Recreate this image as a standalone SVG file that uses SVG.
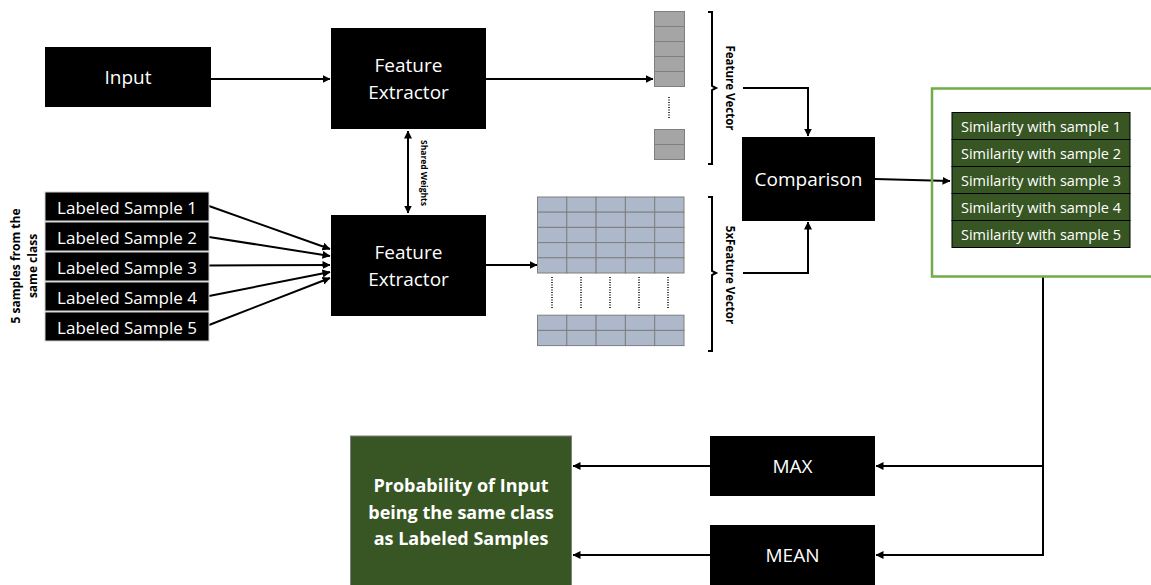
<svg xmlns="http://www.w3.org/2000/svg" width="1151" height="585" viewBox="0 0 1151 585">
  <style>
    .blk { fill: #000000; }
    .lbl { font-family: "Open Sans", "Liberation Sans", sans-serif; fill: #ffffff; text-anchor: middle; dominant-baseline: central; }
    .big { font-size: 19px; }
    .sm { font-size: 17px; }
    .sim { font-size: 14.5px; }
    .side { font-family: "Open Sans", "Liberation Sans", sans-serif; font-weight: bold; fill: #000000; text-anchor: middle; dominant-baseline: central; }
    .wire { fill: none; stroke: #000000; stroke-width: 2; }
    .cellA { fill: #a5a5a5; stroke: #7f7f7f; stroke-width: 1; }
    .cellB { fill: #adb9ca; stroke: #7f7f7f; stroke-width: 1; }
    .dots { stroke: #000000; stroke-width: 1.5; stroke-dasharray: 1 1.5; fill: none; }
    .brace { fill: none; stroke: #000000; stroke-width: 2; }
    .simbox { fill: #375623; stroke: #000000; stroke-width: 1; }
  </style>
  <defs>
    <marker id="arr" viewBox="0 0 8 8" refX="7.5" refY="4" markerWidth="4" markerHeight="4" orient="auto-start-reverse" markerUnits="strokeWidth">
      <path d="M0,0 L8,4 L0,8 Z" fill="#000000"/>
    </marker>
  </defs>

  <rect width="1151" height="585" fill="#ffffff"/>

  <!-- connectors -->
  <g id="connectors">
    <line class="wire" x1="211" y1="79" x2="330" y2="79" marker-end="url(#arr)"/>
    <line class="wire" x1="486" y1="79" x2="653" y2="79" marker-end="url(#arr)"/>
    <line class="wire" x1="408" y1="131" x2="408" y2="213" marker-start="url(#arr)" marker-end="url(#arr)"/>
    <line class="wire" x1="486" y1="265" x2="537" y2="265" marker-end="url(#arr)"/>
    <line class="wire" x1="209" y1="206" x2="330" y2="249" marker-end="url(#arr)"/>
    <line class="wire" x1="209" y1="237" x2="330" y2="256" marker-end="url(#arr)"/>
    <line class="wire" x1="209" y1="265.5" x2="330" y2="265" marker-end="url(#arr)"/>
    <line class="wire" x1="209" y1="296" x2="330" y2="272" marker-end="url(#arr)"/>
    <line class="wire" x1="209" y1="325" x2="330" y2="278" marker-end="url(#arr)"/>
    <polyline class="wire" points="743,88 808,88 808,136" marker-end="url(#arr)"/>
    <polyline class="wire" points="743,273 808,273 808,222" marker-end="url(#arr)"/>
    <line class="wire" x1="875" y1="179" x2="950" y2="181" marker-end="url(#arr)"/>
    <polyline class="wire" points="1043,277 1043,555 876,555" marker-end="url(#arr)"/>
    <line class="wire" x1="1043" y1="466" x2="876" y2="466" marker-end="url(#arr)"/>
    <line class="wire" x1="710" y1="466" x2="573" y2="466" marker-end="url(#arr)"/>
    <line class="wire" x1="710" y1="555" x2="573" y2="555" marker-end="url(#arr)"/>
  </g>

  <!-- input -->
  <g id="input">
    <rect class="blk" x="45" y="47" width="166" height="60"/>
    <text class="lbl big" x="128" y="77">Input</text>
  </g>

  <!-- upper feature extractor -->
  <g id="feature-extractor-top">
    <rect class="blk" x="331" y="28" width="155" height="101"/>
    <text class="lbl big" x="408.5" y="65">Feature</text>
    <text class="lbl big" x="408.5" y="92">Extractor</text>
  </g>

  <g id="shared-weights">
    <text class="side" font-size="8.5" transform="translate(424,173) rotate(90)">Shared Weights</text>
  </g>

  <!-- lower feature extractor -->
  <g id="feature-extractor-bottom">
    <rect class="blk" x="331" y="215" width="155" height="101"/>
    <text class="lbl big" x="408.5" y="252">Feature</text>
    <text class="lbl big" x="408.5" y="279">Extractor</text>
  </g>

  <!-- labeled samples -->
  <g id="samples">
    <rect class="blk" x="45" y="192" width="164" height="29" stroke="#d0d0d0" stroke-width="1"/>
    <text class="lbl sm" x="127" y="207">Labeled Sample 1</text>
    <rect class="blk" x="45" y="222" width="164" height="29" stroke="#d0d0d0" stroke-width="1"/>
    <text class="lbl sm" x="127" y="237">Labeled Sample 2</text>
    <rect class="blk" x="45" y="252" width="164" height="29" stroke="#d0d0d0" stroke-width="1"/>
    <text class="lbl sm" x="127" y="267">Labeled Sample 3</text>
    <rect class="blk" x="45" y="282" width="164" height="29" stroke="#d0d0d0" stroke-width="1"/>
    <text class="lbl sm" x="127" y="297">Labeled Sample 4</text>
    <rect class="blk" x="45" y="312" width="164" height="29" stroke="#d0d0d0" stroke-width="1"/>
    <text class="lbl sm" x="127" y="327">Labeled Sample 5</text>
  </g>

  <g id="samples-caption">
    <text class="side" font-size="12" transform="translate(15,266) rotate(-90)">5 samples from the</text>
    <text class="side" font-size="12" transform="translate(32,266) rotate(-90)">same class</text>
  </g>

  <!-- single feature vector -->
  <g id="feature-vector">
    <rect class="cellA" x="654.5" y="11.5" width="30" height="15"/>
    <rect class="cellA" x="654.5" y="26.5" width="30" height="15"/>
    <rect class="cellA" x="654.5" y="41.5" width="30" height="15"/>
    <rect class="cellA" x="654.5" y="56.5" width="30" height="15"/>
    <rect class="cellA" x="654.5" y="71.5" width="30" height="15"/>
    <line class="dots" x1="669" y1="97" x2="669" y2="118"/>
    <rect class="cellA" x="654.5" y="129.5" width="30" height="15"/>
    <rect class="cellA" x="654.5" y="144.5" width="30" height="15"/>
    <path class="brace" d="M708,12 H712 V86 L716,88 L712,90 V164 H708"/>
    <text class="side" font-size="11.5" transform="translate(730,88) rotate(90)">Feature Vector</text>
  </g>

  <!-- five feature vectors -->
  <g id="feature-vectors-5x">
    <g class="cellB">
      <rect x="537.5" y="197" width="29.3" height="15.2"/><rect x="566.8" y="197" width="29.3" height="15.2"/><rect x="596.1" y="197" width="29.3" height="15.2"/><rect x="625.4" y="197" width="29.3" height="15.2"/><rect x="654.7" y="197" width="29.3" height="15.2"/>
      <rect x="537.5" y="212.2" width="29.3" height="15.2"/><rect x="566.8" y="212.2" width="29.3" height="15.2"/><rect x="596.1" y="212.2" width="29.3" height="15.2"/><rect x="625.4" y="212.2" width="29.3" height="15.2"/><rect x="654.7" y="212.2" width="29.3" height="15.2"/>
      <rect x="537.5" y="227.4" width="29.3" height="15.2"/><rect x="566.8" y="227.4" width="29.3" height="15.2"/><rect x="596.1" y="227.4" width="29.3" height="15.2"/><rect x="625.4" y="227.4" width="29.3" height="15.2"/><rect x="654.7" y="227.4" width="29.3" height="15.2"/>
      <rect x="537.5" y="242.6" width="29.3" height="15.2"/><rect x="566.8" y="242.6" width="29.3" height="15.2"/><rect x="596.1" y="242.6" width="29.3" height="15.2"/><rect x="625.4" y="242.6" width="29.3" height="15.2"/><rect x="654.7" y="242.6" width="29.3" height="15.2"/>
      <rect x="537.5" y="257.8" width="29.3" height="15.2"/><rect x="566.8" y="257.8" width="29.3" height="15.2"/><rect x="596.1" y="257.8" width="29.3" height="15.2"/><rect x="625.4" y="257.8" width="29.3" height="15.2"/><rect x="654.7" y="257.8" width="29.3" height="15.2"/>
      <rect x="537.5" y="315.2" width="29.3" height="15.2"/><rect x="566.8" y="315.2" width="29.3" height="15.2"/><rect x="596.1" y="315.2" width="29.3" height="15.2"/><rect x="625.4" y="315.2" width="29.3" height="15.2"/><rect x="654.7" y="315.2" width="29.3" height="15.2"/>
      <rect x="537.5" y="330.4" width="29.3" height="15.2"/><rect x="566.8" y="330.4" width="29.3" height="15.2"/><rect x="596.1" y="330.4" width="29.3" height="15.2"/><rect x="625.4" y="330.4" width="29.3" height="15.2"/><rect x="654.7" y="330.4" width="29.3" height="15.2"/>
    </g>
    <line class="dots" x1="552" y1="277" x2="552" y2="309"/>
    <line class="dots" x1="581" y1="277" x2="581" y2="309"/>
    <line class="dots" x1="610" y1="277" x2="610" y2="309"/>
    <line class="dots" x1="639" y1="277" x2="639" y2="309"/>
    <line class="dots" x1="668" y1="277" x2="668" y2="309"/>
    <path class="brace" d="M708,197 H712 V271 L716,273 L712,275 V351 H708"/>
    <text class="side" font-size="11.5" transform="translate(730,275) rotate(90)">5xFeature Vector</text>
  </g>

  <!-- comparison -->
  <g id="comparison">
    <rect class="blk" x="742" y="137" width="133" height="84"/>
    <text class="lbl big" x="808.5" y="179">Comparison</text>
  </g>

  <!-- similarity scores -->
  <g id="similarities">
    <rect x="932" y="88.5" width="230" height="188" fill="none" stroke="#70ad47" stroke-width="2.5"/>
    <rect class="simbox" x="952" y="112.5" width="178" height="27"/>
    <text class="lbl sim" x="1041" y="126">Similarity with sample 1</text>
    <rect class="simbox" x="952" y="139.5" width="178" height="27"/>
    <text class="lbl sim" x="1041" y="153">Similarity with sample 2</text>
    <rect class="simbox" x="952" y="166.5" width="178" height="27"/>
    <text class="lbl sim" x="1041" y="180">Similarity with sample 3</text>
    <rect class="simbox" x="952" y="193.5" width="178" height="27"/>
    <text class="lbl sim" x="1041" y="207">Similarity with sample 4</text>
    <rect class="simbox" x="952" y="220.5" width="178" height="27"/>
    <text class="lbl sim" x="1041" y="234">Similarity with sample 5</text>
  </g>

  <!-- aggregation -->
  <g id="max">
    <rect class="blk" x="710" y="436" width="165" height="60"/>
    <text class="lbl big" x="792.5" y="466">MAX</text>
  </g>
  <g id="mean">
    <rect class="blk" x="710" y="525" width="165" height="62"/>
    <text class="lbl big" x="792.5" y="555">MEAN</text>
  </g>

  <!-- result -->
  <g id="probability">
    <rect x="350.5" y="436" width="221" height="152" fill="#375623" stroke="#7f7f7f" stroke-width="1"/>
    <text class="lbl" font-size="18" font-weight="bold" x="461" y="485">Probability of Input</text>
    <text class="lbl" font-size="18" font-weight="bold" x="461" y="512">being the same class</text>
    <text class="lbl" font-size="18" font-weight="bold" x="461" y="538">as Labeled Samples</text>
  </g>
</svg>
